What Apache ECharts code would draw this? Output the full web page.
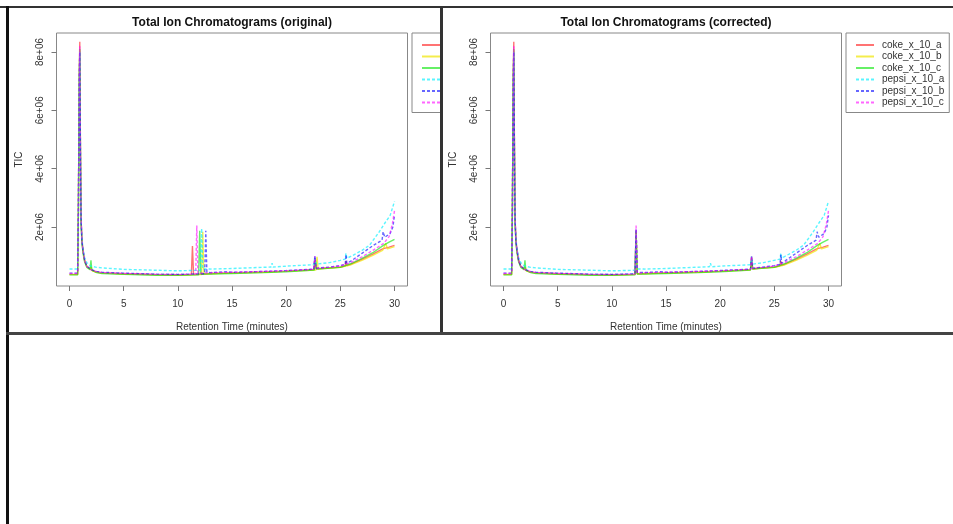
<!DOCTYPE html>
<html>
<head>
<meta charset="utf-8">
<script src="https://cdn.jsdelivr.net/npm/echarts@6/dist/echarts.min.js"></script>
<style>
  html, body { margin: 0; padding: 0; background: #fff; }
  body { width: 953px; height: 524px; position: relative; overflow: hidden; }
  .clip { position: absolute; top: 0; height: 332px; overflow: hidden; }
  .panel { width: 520px; height: 332px; }
  .rule { position: absolute; background: #333; z-index: 5; }
</style>
</head>
<body>
<div class="clip" style="left:9px;width:431px"><div class="panel" id="orig"></div></div>
<div class="clip" style="left:443px;width:510px"><div class="panel" id="corr"></div></div>
<div class="rule" style="left:0;top:6px;width:953px;height:2px"></div>
<div class="rule" style="left:6px;top:6px;width:3px;height:518px;background:#111"></div>
<div class="rule" style="left:440px;top:6px;width:3px;height:329px"></div>
<div class="rule" style="left:6px;top:332px;width:947px;height:3px;background:#444"></div>
<script>
// sample names, colours, line types
const sampleNames = ['coke_x_10_a', 'coke_x_10_b', 'coke_x_10_c', 'pepsi_x_10_a', 'pepsi_x_10_b', 'pepsi_x_10_c']
const sampleColors = ['rgba(255,0,0,0.55)', 'rgba(240,230,0,0.7)', 'rgba(0,230,0,0.6)',
  'rgba(0,240,255,0.65)', 'rgba(0,0,255,0.6)', 'rgba(255,0,255,0.6)']
const sampleDash = ['solid', 'solid', 'solid', [3, 2], [3, 2], [3, 2]]

// axis ticks
const rtTicks = [0, 5, 10, 15, 20, 25, 30]
const ticTicks = [2e6, 4e6, 6e6, 8e6]
const ticTickLabels = ['2e+06', '4e+06', '6e+06', '8e+06']

// retention time (min), TIC -- original
const origCokeA = [[0,3.8e5],[0.75,3.8e5],[0.82,2.6e6],[0.9,7.3e6],[0.95,8.35e6],[1.01,4.8e6],[1.07,2.3e6],[1.15,1.55e6],[1.25,1.2e6],[1.4,8.6e5],[1.6,6.6e5],[1.9,5.6e5],[2.0,6.0e5],[2.1,5.1e5],[2.5,4.6e5],[3,4.3e5],[5,4.0e5],[8,3.7e5],[10,3.6e5],[11.25,3.7e5],[11.35,1.35e6],[11.45,3.8e5],[12.5,3.9e5],[13,4.1e5],[15,4.3e5],[18,4.6e5],[20,4.9e5],[22.55,5.4e5],[22.65,9.4e5],[22.75,5.7e5],[23.5,5.9e5],[25,6.3e5],[25.45,6.6e5],[25.52,8.4e5],[25.6,6.8e5],[26,7.3e5],[27,8.9e5],[28,1.07e6],[28.9,1.25e6],[29.5,1.31e6],[30,1.37e6]]
const origCokeB = [[0,3.7e5],[0.75,3.7e5],[0.82,2.4e6],[0.9,7.0e6],[0.95,8.05e6],[1.01,4.6e6],[1.07,2.2e6],[1.15,1.5e6],[1.25,1.15e6],[1.4,8.3e5],[1.6,6.4e5],[1.9,5.5e5],[2.0,6.4e5],[2.1,5.0e5],[2.5,4.5e5],[3,4.2e5],[5,3.9e5],[8,3.6e5],[10,3.5e5],[12.2,3.7e5],[12.3,1.84e6],[12.4,4.0e5],[13,4.0e5],[15,4.2e5],[18,4.5e5],[20,4.8e5],[22.75,5.3e5],[22.85,9.8e5],[22.95,5.6e5],[23.5,5.8e5],[25,6.2e5],[26,7.1e5],[27,8.6e5],[28,1.03e6],[28.9,1.2e6],[29.2,1.44e6],[29.35,1.25e6],[30,1.33e6]]
const origCokeC = [[0,3.6e5],[0.75,3.6e5],[0.82,2.5e6],[0.9,7.1e6],[0.95,8.1e6],[1.01,4.5e6],[1.07,2.1e6],[1.15,1.45e6],[1.25,1.1e6],[1.4,8.0e5],[1.6,6.2e5],[1.9,5.4e5],[1.98,8.6e5],[2.06,5.2e5],[2.5,4.4e5],[3,4.1e5],[5,3.8e5],[8,3.5e5],[10,3.5e5],[11.92,3.6e5],[12.02,1.87e6],[12.12,3.9e5],[13,3.9e5],[15,4.1e5],[18,4.4e5],[20,4.7e5],[22.6,5.3e5],[22.7,8.6e5],[22.8,5.6e5],[23.5,5.8e5],[25,6.2e5],[26,7.5e5],[27,9.3e5],[28,1.12e6],[29,1.38e6],[29.5,1.48e6],[30,1.58e6]]
const origPepsiA = [[0,5.6e5],[0.75,5.6e5],[0.82,2.4e6],[0.9,6.9e6],[0.95,8.0e6],[1.01,4.7e6],[1.07,2.3e6],[1.15,1.6e6],[1.25,1.25e6],[1.4,9.5e5],[1.6,7.8e5],[1.9,6.8e5],[2.0,7.2e5],[2.1,6.5e5],[2.5,6.2e5],[3,6.0e5],[5,5.5e5],[8,5.2e5],[10,5.0e5],[12.1,5.2e5],[12.2,1.95e6],[12.3,5.6e5],[13,5.6e5],[15,5.8e5],[18.6,6.3e5],[18.7,7.6e5],[18.8,6.3e5],[20,6.6e5],[22.55,7.1e5],[22.65,1.0e6],[22.75,7.3e5],[24,7.8e5],[25,8.6e5],[25.45,9.0e5],[25.52,1.1e6],[25.6,9.3e5],[26,1.0e6],[27,1.2e6],[27.7,1.38e6],[28.6,1.84e6],[29.1,2.13e6],[29.6,2.4e6],[30,2.88e6]]
const origPepsiB = [[0,4.2e5],[0.75,4.2e5],[0.82,2.5e6],[0.9,7.0e6],[0.95,8.0e6],[1.01,4.6e6],[1.07,2.2e6],[1.15,1.5e6],[1.25,1.2e6],[1.4,8.5e5],[1.6,6.6e5],[1.9,5.7e5],[2.0,6.3e5],[2.1,5.3e5],[2.5,4.8e5],[3,4.5e5],[5,4.2e5],[8,3.9e5],[10,3.8e5],[12.48,4.0e5],[12.58,1.87e6],[12.68,4.5e5],[13,4.4e5],[14.5,4.7e5],[15,4.5e5],[18,4.8e5],[20,5.1e5],[22.55,5.6e5],[22.65,1.0e6],[22.75,5.9e5],[24,6.3e5],[25,6.8e5],[25.45,7.2e5],[25.52,1.05e6],[25.6,7.6e5],[26,8.4e5],[27,1.1e6],[28,1.36e6],[28.85,1.55e6],[28.95,1.84e6],[29.1,1.65e6],[29.6,1.78e6],[29.85,2.0e6],[30,2.4e6]]
const origPepsiC = [[0,4.1e5],[0.75,4.1e5],[0.82,2.6e6],[0.9,7.2e6],[0.95,8.2e6],[1.01,4.7e6],[1.07,2.3e6],[1.15,1.5e6],[1.25,1.18e6],[1.4,8.4e5],[1.6,6.5e5],[1.9,5.6e5],[2.0,6.2e5],[2.1,5.2e5],[2.5,4.7e5],[3,4.4e5],[5,4.1e5],[8,3.8e5],[10,3.7e5],[11.65,3.9e5],[11.75,2.05e6],[11.85,4.2e5],[13,4.3e5],[15,4.5e5],[18,4.8e5],[20,5.0e5],[22.55,5.5e5],[22.65,1.0e6],[22.75,5.8e5],[24,6.2e5],[25,6.6e5],[26,7.9e5],[27,9.8e5],[28,1.2e6],[29,1.44e6],[29.5,1.67e6],[29.8,2.1e6],[30,2.56e6]]

// retention time (min), TIC -- corrected (peaks aligned)
const corrCokeA = [[0,3.8e5],[0.75,3.8e5],[0.82,2.6e6],[0.9,7.3e6],[0.95,8.35e6],[1.01,4.8e6],[1.07,2.3e6],[1.15,1.55e6],[1.25,1.2e6],[1.4,8.6e5],[1.6,6.6e5],[1.9,5.6e5],[2.0,6.0e5],[2.1,5.1e5],[2.5,4.6e5],[3,4.3e5],[5,4.0e5],[8,3.7e5],[10,3.6e5],[12.14,3.8e5],[12.24,1.9e6],[12.34,4.0e5],[13,4.1e5],[15,4.3e5],[18,4.6e5],[20,4.9e5],[22.8,5.4e5],[22.9,9.4e5],[23.0,5.7e5],[23.5,5.9e5],[25,6.3e5],[25.52,6.6e5],[25.6,8.4e5],[25.68,6.8e5],[26,7.3e5],[27,8.9e5],[28,1.07e6],[28.9,1.25e6],[29.5,1.31e6],[30,1.37e6]]
const corrCokeB = [[0,3.7e5],[0.75,3.7e5],[0.82,2.4e6],[0.9,7.0e6],[0.95,8.05e6],[1.01,4.6e6],[1.07,2.2e6],[1.15,1.5e6],[1.25,1.15e6],[1.4,8.3e5],[1.6,6.4e5],[1.9,5.5e5],[2.0,6.4e5],[2.1,5.0e5],[2.5,4.5e5],[3,4.2e5],[5,3.9e5],[8,3.6e5],[10,3.5e5],[12.14,3.7e5],[12.24,1.84e6],[12.34,4.0e5],[13,4.0e5],[15,4.2e5],[18,4.5e5],[20,4.8e5],[22.8,5.3e5],[22.9,9.8e5],[23.0,5.6e5],[23.5,5.8e5],[25,6.2e5],[26,7.1e5],[27,8.6e5],[28,1.03e6],[28.9,1.2e6],[29.2,1.44e6],[29.35,1.25e6],[30,1.33e6]]
const corrCokeC = [[0,3.6e5],[0.75,3.6e5],[0.82,2.5e6],[0.9,7.1e6],[0.95,8.1e6],[1.01,4.5e6],[1.07,2.1e6],[1.15,1.45e6],[1.25,1.1e6],[1.4,8.0e5],[1.6,6.2e5],[1.9,5.4e5],[1.98,8.6e5],[2.06,5.2e5],[2.5,4.4e5],[3,4.1e5],[5,3.8e5],[8,3.5e5],[10,3.5e5],[12.14,3.6e5],[12.24,1.87e6],[12.34,3.9e5],[13,3.9e5],[15,4.1e5],[18,4.4e5],[20,4.7e5],[22.8,5.3e5],[22.9,8.6e5],[23.0,5.6e5],[23.5,5.8e5],[25,6.2e5],[26,7.5e5],[27,9.3e5],[28,1.12e6],[29,1.38e6],[29.5,1.48e6],[30,1.58e6]]
const corrPepsiA = [[0,5.6e5],[0.75,5.6e5],[0.82,2.4e6],[0.9,6.9e6],[0.95,8.0e6],[1.01,4.7e6],[1.07,2.3e6],[1.15,1.6e6],[1.25,1.25e6],[1.4,9.5e5],[1.6,7.8e5],[1.9,6.8e5],[2.0,7.2e5],[2.1,6.5e5],[2.5,6.2e5],[3,6.0e5],[5,5.5e5],[8,5.2e5],[10,5.0e5],[12.14,5.2e5],[12.24,1.95e6],[12.34,5.6e5],[13,5.6e5],[15,5.8e5],[19.0,6.4e5],[19.1,7.6e5],[19.2,6.4e5],[20,6.6e5],[22.8,7.1e5],[22.9,1.0e6],[23.0,7.3e5],[24,7.8e5],[25,8.6e5],[25.52,9.0e5],[25.6,1.1e6],[25.68,9.3e5],[26,1.0e6],[27,1.2e6],[27.7,1.38e6],[28.6,1.84e6],[29.1,2.13e6],[29.6,2.4e6],[30,2.88e6]]
const corrPepsiB = [[0,4.2e5],[0.75,4.2e5],[0.82,2.5e6],[0.9,7.0e6],[0.95,8.0e6],[1.01,4.6e6],[1.07,2.2e6],[1.15,1.5e6],[1.25,1.2e6],[1.4,8.5e5],[1.6,6.6e5],[1.9,5.7e5],[2.0,6.3e5],[2.1,5.3e5],[2.5,4.8e5],[3,4.5e5],[5,4.2e5],[8,3.9e5],[10,3.8e5],[12.14,4.0e5],[12.24,1.92e6],[12.34,4.5e5],[13,4.4e5],[14.5,4.7e5],[15,4.5e5],[18,4.8e5],[20,5.1e5],[22.8,5.6e5],[22.9,1.0e6],[23.0,5.9e5],[24,6.3e5],[25,6.8e5],[25.52,7.2e5],[25.6,1.05e6],[25.68,7.6e5],[26,8.4e5],[27,1.1e6],[28,1.36e6],[28.85,1.55e6],[28.95,1.84e6],[29.1,1.65e6],[29.6,1.78e6],[29.85,2.0e6],[30,2.4e6]]
const corrPepsiC = [[0,4.1e5],[0.75,4.1e5],[0.82,2.6e6],[0.9,7.2e6],[0.95,8.2e6],[1.01,4.7e6],[1.07,2.3e6],[1.15,1.5e6],[1.25,1.18e6],[1.4,8.4e5],[1.6,6.5e5],[1.9,5.6e5],[2.0,6.2e5],[2.1,5.2e5],[2.5,4.7e5],[3,4.4e5],[5,4.1e5],[8,3.8e5],[10,3.7e5],[12.14,3.9e5],[12.24,2.05e6],[12.34,4.2e5],[13,4.3e5],[15,4.5e5],[18,4.8e5],[20,5.0e5],[22.8,5.5e5],[22.9,1.0e6],[23.0,5.8e5],[24,6.2e5],[25,6.6e5],[26,7.9e5],[27,9.8e5],[28,1.2e6],[29,1.44e6],[29.5,1.67e6],[29.8,2.1e6],[30,2.56e6]]

const FONT = '"Liberation Sans", Arial, sans-serif'

function makeOption(title, samples) {
  return {
    animation: false,
    textStyle: { fontFamily: FONT },
    title: {
      text: title,
      left: 223,
      textAlign: 'center',
      top: 17,
      padding: 0,
      textStyle: { fontFamily: FONT, fontSize: 12, fontWeight: 'bold', color: '#111' }
    },
    legend: {
      orient: 'vertical',
      left: 403,
      top: 33,
      padding: [7, 5, 5, 9],
      itemWidth: 18,
      itemHeight: 10,
      itemGap: 1.5,
      borderColor: '#888',
      borderWidth: 1,
      selectedMode: false,
      itemStyle: { opacity: 0 },
      data: sampleNames,
      textStyle: { fontFamily: FONT, fontSize: 10, color: '#333', lineHeight: 10, padding: [0, 0, 0, 3] }
    },
    grid: {
      left: 47.5,
      top: 33,
      width: 351,
      height: 253,
      outerBoundsMode: 'none',
      show: true,
      borderColor: '#888',
      borderWidth: 1,
      backgroundColor: 'transparent'
    },
    xAxis: {
      type: 'value',
      min: -1.2,
      max: 31.2,
      name: 'Retention Time (minutes)',
      nameLocation: 'middle',
      nameGap: 36,
      nameTextStyle: { fontFamily: FONT, fontSize: 10, color: '#333' },
      axisLine: { show: false, onZero: false },
      splitLine: { show: false },
      axisTick: { show: true, inside: false, length: 5, customValues: rtTicks, lineStyle: { color: '#777' } },
      axisLabel: { customValues: rtTicks, margin: 13, fontSize: 10, color: '#333', fontFamily: FONT }
    },
    yAxis: {
      type: 'value',
      min: -20000,
      max: 8650000,
      name: 'TIC',
      nameLocation: 'middle',
      nameGap: 32,
      nameTextStyle: { fontFamily: FONT, fontSize: 10, color: '#333' },
      axisLine: { show: false, onZero: false },
      splitLine: { show: false },
      axisTick: { show: true, inside: false, length: 5, customValues: ticTicks, lineStyle: { color: '#777' } },
      axisLabel: {
        customValues: ticTicks,
        rotate: 90,
        margin: 11,
        fontSize: 10,
        color: '#333',
        fontFamily: FONT,
        formatter: v => ticTickLabels[ticTicks.indexOf(v)] || ''
      }
    },
    series: samples.map((d, i) => ({
      name: sampleNames[i],
      type: 'line',
      data: d,
      symbol: 'none',
      color: sampleColors[i],
      lineStyle: { width: 1.4, color: sampleColors[i], type: sampleDash[i] }
    }))
  }
}

const origChart = echarts.init(document.getElementById('orig'), null, { renderer: 'canvas' })
origChart.setOption(makeOption('Total Ion Chromatograms (original)',
  [origCokeA, origCokeB, origCokeC, origPepsiA, origPepsiB, origPepsiC]))

const corrChart = echarts.init(document.getElementById('corr'), null, { renderer: 'canvas' })
corrChart.setOption(makeOption('Total Ion Chromatograms (corrected)',
  [corrCokeA, corrCokeB, corrCokeC, corrPepsiA, corrPepsiB, corrPepsiC]))
</script>
</body>
</html>
